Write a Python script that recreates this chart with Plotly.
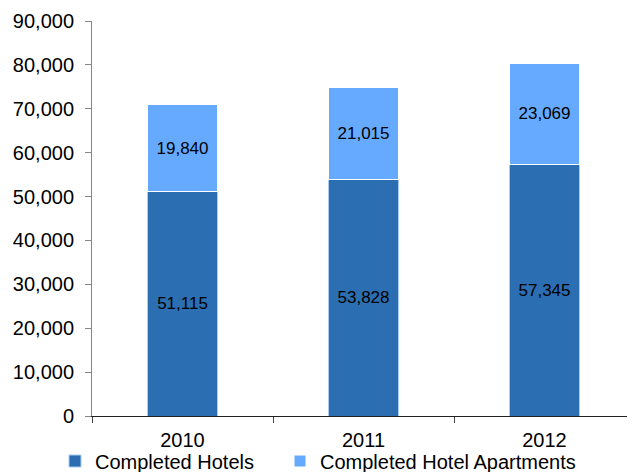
import plotly.graph_objects as go

years = ["2010", "2011", "2012"]
hotels = [51115, 53828, 57345]
apartments = [19840, 21015, 23069]
y_ticks = [0, 10000, 20000, 30000, 40000, 50000, 60000, 70000, 80000, 90000]
series_names = ["Completed Hotels", "Completed Hotel Apartments"]

FONT = "Liberation Sans, Arial, sans-serif"
W, H = 635, 472

fig = go.Figure()
fig.add_trace(go.Bar(
    x=years, y=hotels, name=series_names[0], legend="legend",
    marker=dict(color="#2B6EB1", line=dict(color="#A9CDF2", width=1)),
    text=[f"{v:,}" for v in hotels], textposition="inside",
    insidetextanchor="middle", textfont=dict(size=17, color="black", family=FONT),
    constraintext="none", width=0.39,
))
fig.add_trace(go.Bar(
    x=years, y=apartments, name=series_names[1], legend="legend2",
    marker=dict(color="#66AAFF", line=dict(color="#FFFFFF", width=1)),
    text=[f"{v:,}" for v in apartments], textposition="inside",
    insidetextanchor="middle", textfont=dict(size=17, color="black", family=FONT),
    constraintext="none", width=0.39,
))

legend_common = dict(orientation="h", xref="container", yref="container",
                     xanchor="left", y=1 - 453 / H, yanchor="middle",
                     font=dict(size=20, family=FONT), itemwidth=30,
                     bgcolor="rgba(0,0,0,0)")

# page body has an 8px default margin; margins compensate for that offset
fig.update_layout(
    barmode="stack",
    width=W, height=H,
    margin=dict(l=84, r=8, t=13, b=64),
    paper_bgcolor="white", plot_bgcolor="white",
    font=dict(family=FONT, color="black"),
    showlegend=True,
    legend=dict(x=47 / W, **legend_common),
    legend2=dict(x=272 / W, **legend_common),
    xaxis=dict(
        type="category", showgrid=False, showline=True, linecolor="#222222", linewidth=1,
        ticks="outside", tickson="boundaries", ticklen=6, tickcolor="#444444",
        tickfont=dict(size=20, family=FONT), range=[-0.5, 2.5],
        automargin=False, ticklabelstandoff=6,
    ),
    yaxis=dict(
        range=[0, 90000], tickvals=y_ticks, tickformat=",d",
        showgrid=False, showline=True, linecolor="#868686", linewidth=1,
        ticks="outside", ticklen=6, tickcolor="#868686",
        tickfont=dict(size=20, family=FONT), zeroline=False,
        automargin=False, ticklabelstandoff=7,
    ),
    bargap=0.6,
)

fig.write_html("out.html")
